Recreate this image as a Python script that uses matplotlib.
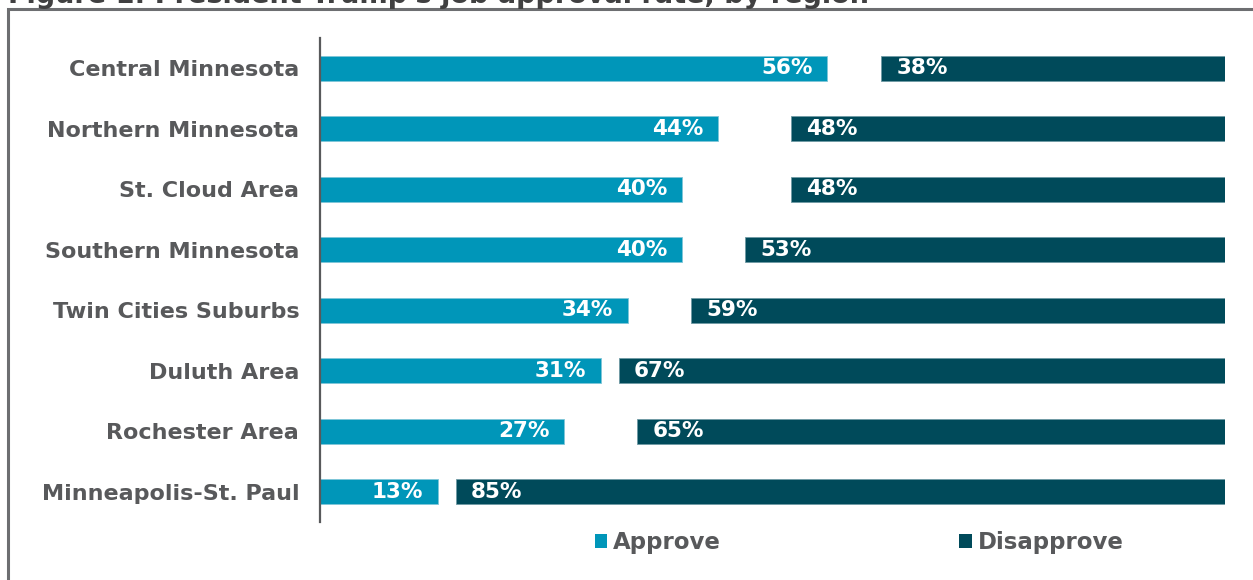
import matplotlib
matplotlib.use("Agg")
import matplotlib.pyplot as plt
from matplotlib.patches import Rectangle, Patch

regions = ["Central Minnesota", "Northern Minnesota", "St. Cloud Area",
           "Southern Minnesota", "Twin Cities Suburbs", "Duluth Area",
           "Rochester Area", "Minneapolis-St. Paul"]
approve = [56, 44, 40, 40, 34, 31, 27, 13]
disapprove = [38, 48, 48, 53, 59, 67, 65, 85]
series_names = ["Approve", "Disapprove"]
title = "Figure 1: President Trump's job approval rate, by region"

C_APP = "#0096B9"
C_DIS = "#004A5A"
GREY = "#58595B"
FONT = "DejaVu Sans"

W, H = 1253, 580
fig = plt.figure(figsize=(W / 100, H / 100), dpi=100)

# axes: x from 320 to 1225 px, y from 38 to 522 px
ax = fig.add_axes([320 / W, 1 - 522 / H, (1225 - 320) / W, (522 - 38) / H])
ypos = list(range(len(regions)))
bh = 0.41
ax.barh(ypos, approve, height=bh, color=C_APP, edgecolor="#7fc6d8", linewidth=0.6)
ax.barh(ypos, disapprove, left=[100 - d for d in disapprove], height=bh,
        color=C_DIS, edgecolor="#6f9aa4", linewidth=0.6)
ax.set_xlim(0, 100)
ax.set_ylim(len(regions) - 0.5, -0.5)
ax.set_yticks(ypos)
ax.set_yticklabels(regions, fontsize=16, fontweight="bold", color=GREY, family=FONT)
ax.tick_params(axis="y", length=0, pad=15)
ax.set_xticks([])
for s in ["top", "right", "bottom"]:
    ax.spines[s].set_visible(False)
ax.spines["left"].set_color("#58595B")
ax.spines["left"].set_linewidth(1.6)

for i, (a, d) in enumerate(zip(approve, disapprove)):
    ax.text(a - 1.6, i, f"{a}%", ha="right", va="center", color="white",
            fontsize=15.5, fontweight="bold", family=FONT)
    ax.text(100 - d + 1.7, i, f"{d}%", ha="left", va="center", color="white",
            fontsize=15.5, fontweight="bold", family=FONT)

# legend
handles = [Patch(facecolor=C_APP, edgecolor="none"), Patch(facecolor=C_DIS, edgecolor="none")]
leg = fig.legend(handles, series_names, loc="center left",
                 bbox_to_anchor=(574 / W, 1 - 543 / H), ncol=2, frameon=False,
                 handlelength=0.55, handleheight=0.55, handletextpad=0.25,
                 columnspacing=10.4,
                 prop={"family": FONT, "weight": "bold", "size": 16.5})
for t in leg.get_texts():
    t.set_color(GREY)

# frame (partially visible)
fig.add_artist(Rectangle((8 / W, -0.1), 1.2, 1 - 9 / H + 0.1, transform=fig.transFigure,
                         fill=False, edgecolor="#6d6e71", linewidth=2.2, clip_on=False))

# title, cut off at top
fig.text(8 / W, 1 - 3 / H, title, ha="left", va="baseline", fontsize=19.5,
         fontweight="bold", color="#404041", family=FONT)

fig.savefig("out.png", dpi=100)
